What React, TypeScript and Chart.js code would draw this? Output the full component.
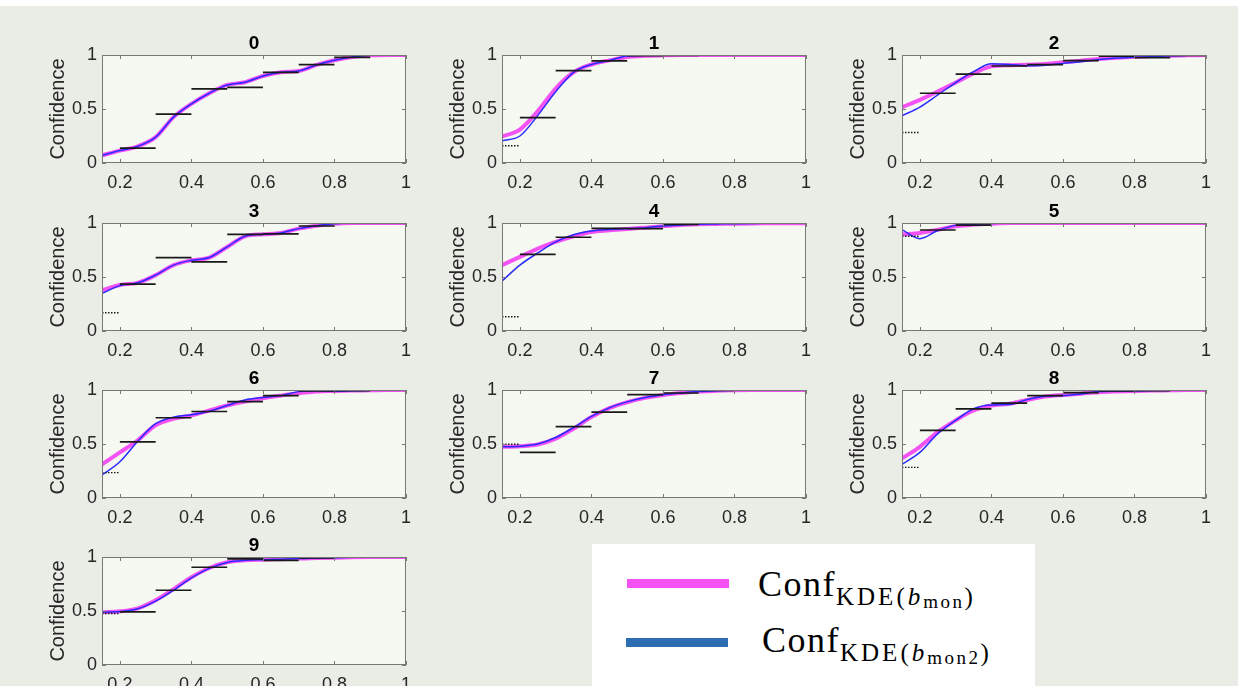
import React, { useEffect, useRef } from "react";
import { Chart, registerables } from "chart.js";

Chart.register(...registerables);

// ---------- data ----------
const xGrid = [0.15, 0.2, 0.25, 0.3, 0.35, 0.4, 0.45, 0.5, 0.55, 0.6, 0.65, 0.7, 0.75, 0.8, 0.85, 0.9, 0.95, 1.0];

const panelTitles = ["0", "1", "2", "3", "4", "5", "6", "7", "8", "9"];

// Conf_KDE(b_mon) (magenta, thick)
const monCurves: number[][] = [
  [0.07, 0.115, 0.155, 0.24, 0.425, 0.548, 0.646, 0.723, 0.748, 0.806, 0.84, 0.852, 0.908, 0.951, 0.982, 0.997, 1.0, 1.0],
  [0.246, 0.31, 0.48, 0.69, 0.84, 0.912, 0.95, 0.982, 0.993, 0.997, 0.999, 1.0, 1.0, 1.0, 1.0, 1.0, 1.0, 1.0],
  [0.517, 0.585, 0.662, 0.745, 0.83, 0.895, 0.906, 0.91, 0.917, 0.932, 0.948, 0.963, 0.975, 0.983, 0.99, 0.994, 0.997, 1.0],
  [0.378, 0.426, 0.446, 0.517, 0.61, 0.655, 0.68, 0.778, 0.877, 0.895, 0.908, 0.948, 0.975, 0.994, 1.0, 1.0, 1.0, 1.0],
  [0.61, 0.686, 0.763, 0.825, 0.877, 0.917, 0.932, 0.945, 0.957, 0.969, 0.982, 0.988, 0.991, 0.994, 0.996, 0.997, 0.998, 0.998],
  [0.895, 0.908, 0.938, 0.969, 0.985, 0.994, 1.0, 1.0, 1.0, 1.0, 1.0, 1.0, 1.0, 1.0, 1.0, 1.0, 1.0, 1.0],
  [0.312, 0.422, 0.535, 0.673, 0.734, 0.765, 0.81, 0.856, 0.893, 0.924, 0.948, 0.969, 0.985, 0.991, 0.995, 0.997, 0.999, 1.0],
  [0.474, 0.48, 0.495, 0.55, 0.642, 0.749, 0.832, 0.887, 0.927, 0.954, 0.972, 0.985, 0.994, 0.998, 1.0, 1.0, 1.0, 1.0],
  [0.367, 0.474, 0.612, 0.719, 0.81, 0.856, 0.872, 0.908, 0.939, 0.954, 0.966, 0.979, 0.986, 0.991, 0.995, 0.997, 0.999, 1.0],
  [0.489, 0.497, 0.525, 0.6, 0.702, 0.812, 0.898, 0.951, 0.969, 0.975, 0.98, 0.985, 0.99, 0.994, 0.997, 0.999, 1.0, 1.0],
];

// Conf_KDE(b_mon2) (blue, thin)
const mon2Curves: number[][] = [
  [0.07, 0.115, 0.155, 0.24, 0.425, 0.548, 0.646, 0.723, 0.748, 0.806, 0.84, 0.852, 0.908, 0.951, 0.982, 0.997, 1.0, 1.0],
  [0.206, 0.25, 0.44, 0.66, 0.84, 0.912, 0.95, 0.99, 0.997, 0.999, 1.0, 1.0, 1.0, 1.0, 1.0, 1.0, 1.0, 1.0],
  [0.437, 0.517, 0.63, 0.745, 0.846, 0.918, 0.912, 0.9, 0.906, 0.922, 0.938, 0.958, 0.972, 0.979, 0.985, 0.993, 0.997, 1.0],
  [0.348, 0.42, 0.446, 0.517, 0.61, 0.655, 0.68, 0.778, 0.877, 0.895, 0.908, 0.948, 0.975, 0.994, 1.0, 1.0, 1.0, 1.0],
  [0.462, 0.61, 0.723, 0.825, 0.892, 0.926, 0.94, 0.948, 0.957, 0.972, 0.982, 0.988, 0.991, 0.994, 0.996, 0.997, 0.998, 0.998],
  [0.938, 0.855, 0.93, 0.978, 0.988, 0.996, 1.0, 1.0, 1.0, 1.0, 1.0, 1.0, 1.0, 1.0, 1.0, 1.0, 1.0, 1.0],
  [0.214, 0.336, 0.526, 0.688, 0.749, 0.771, 0.804, 0.856, 0.908, 0.93, 0.948, 0.985, 0.994, 0.988, 0.992, 0.997, 0.999, 1.0],
  [0.474, 0.48, 0.5, 0.56, 0.652, 0.755, 0.835, 0.89, 0.93, 0.956, 0.973, 0.986, 0.994, 0.998, 1.0, 1.0, 1.0, 1.0],
  [0.312, 0.422, 0.596, 0.719, 0.826, 0.862, 0.865, 0.911, 0.942, 0.948, 0.963, 0.985, 0.988, 0.991, 0.995, 0.997, 0.999, 1.0],
  [0.489, 0.495, 0.52, 0.591, 0.692, 0.806, 0.895, 0.95, 0.969, 0.975, 0.98, 0.985, 0.99, 0.994, 0.997, 0.999, 1.0, 1.0],
];

// bin edges and per-bin values (black horizontal segments)
const binEdges = [0.2, 0.3, 0.4, 0.5, 0.6, 0.7, 0.8, 0.9, 1.0];
const binValues: (number | null)[][] = [
  [0.138, 0.452, 0.686, 0.7, 0.84, 0.91, 0.978, 1.0],
  [0.42, 0.855, 0.945, 0.994, 0.997, null, null, null],
  [0.646, 0.822, 0.898, 0.91, 0.948, 0.99, 0.975, 0.997],
  [0.434, 0.68, 0.64, 0.895, 0.9, 0.972, 1.0, 1.0],
  [0.71, 0.868, 0.95, 0.948, 0.988, null, null, null],
  [0.935, 0.98, 1.0, 1.0, 1.0, 1.0, 1.0, 1.0],
  [0.52, 0.743, 0.801, 0.893, 0.948, 0.991, 0.995, null],
  [0.422, 0.661, 0.795, 0.957, 0.972, 0.997, null, null],
  [0.627, 0.826, 0.878, 0.948, 0.976, 0.991, 0.995, null],
  [0.492, 0.692, 0.905, 0.982, 0.969, 0.991, 1.0, 1.0],
];

// dotted segment over [0.15, 0.2]
const dottedRange = [0.15, 0.2];
const dottedValues = [0.0, 0.16, 0.283, 0.169, 0.132, 0.877, 0.235, 0.498, 0.284, 0.477];

const xTickValues = [0.2, 0.4, 0.6, 0.8, 1];
const yTickValues = [0, 0.5, 1];

// ---------- styles ----------
const PAGE_BG = "#e9ede5";
const PLOT_BG = "#f5f9f1";
const MON_COLOR = "#f452f4";
const MON2_COLOR = "#2a2aff";
const LEGEND_MON2 = "#2d6db1";
const AXIS_COLOR = "#777777";
const TEXT_COLOR = "#262626";
const SANS = '"Liberation Sans", Arial, Helvetica, sans-serif';
const SERIF = '"Liberation Serif", "Times New Roman", serif';

const colLefts = [102, 502, 902];
const rowTops = [55, 223, 390, 557];
const PLOT_W = 304;
const PLOT_H = 108;
const PAD_L = 70;
const PAD_T = 30;
const PAD_R = 14;
const PAD_B = 34;

const framePlugin = {
  id: "frame",
  beforeDraw(chart: any) {
    const { ctx, chartArea: a } = chart;
    ctx.save();
    ctx.fillStyle = PLOT_BG;
    ctx.fillRect(a.left, a.top, a.right - a.left, a.bottom - a.top);
    ctx.restore();
  },
  afterDraw(chart: any, _args: any, opts: any) {
    const { ctx, chartArea: a, scales } = chart;
    ctx.save();
    ctx.strokeStyle = AXIS_COLOR;
    ctx.lineWidth = 1;
    ctx.strokeRect(a.left + 0.5, a.top + 0.5, a.right - a.left - 1, a.bottom - a.top - 1);
    ctx.beginPath();
    for (const v of xTickValues) {
      const px = Math.round(scales.x.getPixelForValue(v)) + 0.5;
      ctx.moveTo(px, a.bottom);
      ctx.lineTo(px, a.bottom - 4);
      ctx.moveTo(px, a.top);
      ctx.lineTo(px, a.top + 4);
    }
    for (const v of yTickValues) {
      const py = Math.round(scales.y.getPixelForValue(v)) + 0.5;
      ctx.moveTo(a.left, py);
      ctx.lineTo(a.left + 4, py);
      ctx.moveTo(a.right, py);
      ctx.lineTo(a.right - 4, py);
    }
    ctx.stroke();
    ctx.fillStyle = "#000";
    ctx.font = `bold 19px ${SANS}`;
    ctx.textAlign = "center";
    ctx.textBaseline = "alphabetic";
    ctx.fillText(opts.title, (a.left + a.right) / 2, a.top - 6);
    ctx.restore();
  },
};

function Panel({ index }: { index: number }) {
  const ref = useRef<HTMLCanvasElement>(null);
  useEffect(() => {
    const canvas = ref.current;
    if (!canvas) return;
    const binData: any[] = [];
    binValues[index].forEach((v, i) => {
      if (v === null) return;
      binData.push({ x: binEdges[i], y: v }, { x: binEdges[i + 1], y: v }, { x: binEdges[i + 1] + 0.001, y: null });
    });
    const d = dottedValues[index];
    const tickFont = { family: SANS, size: 18 };
    const chart = new Chart(canvas, {
      type: "line",
      data: {
        datasets: [
          {
            label: "bins",
            data: binData,
            borderColor: "#1a1a1a",
            borderWidth: 1.7,
            pointRadius: 0,
            spanGaps: false,
            tension: 0,
          },
          {
            label: "dotted",
            data: dottedRange.map((x) => ({ x, y: d })),
            borderColor: "#1a1a1a",
            borderWidth: 1.4,
            borderDash: [1.5, 1.5],
            pointRadius: 0,
            tension: 0,
          },
          {
            label: "mon2",
            data: xGrid.map((x, i) => ({ x, y: mon2Curves[index][i] })),
            borderColor: MON2_COLOR,
            borderWidth: 1.5,
            pointRadius: 0,
            cubicInterpolationMode: "monotone",
          },
          {
            label: "mon",
            data: xGrid.map((x, i) => ({ x, y: monCurves[index][i] })),
            borderColor: MON_COLOR,
            borderWidth: 4,
            pointRadius: 0,
            cubicInterpolationMode: "monotone",
          },
        ],
      } as any,
      options: {
        animation: false,
        responsive: false,
        events: [],
        layout: { padding: { top: PAD_T, right: PAD_R, left: 0, bottom: 0 } },
        plugins: {
          legend: { display: false },
          tooltip: { enabled: false },
          title: { display: false },
          frame: { title: panelTitles[index] },
        } as any,
        scales: {
          x: {
            type: "linear",
            min: 0.15,
            max: 1,
            afterBuildTicks: (s: any) => {
              s.ticks = xTickValues.map((v) => ({ value: v }));
            },
            afterFit: (s: any) => {
              s.height = PAD_B;
            },
            grid: { display: false, drawTicks: false },
            border: { display: false },
            ticks: {
              font: tickFont,
              color: TEXT_COLOR,
              padding: 9,
              maxRotation: 0,
              autoSkip: false,
              callback: (v: any) => String(v),
            },
          },
          y: {
            type: "linear",
            min: 0,
            max: 1,
            afterBuildTicks: (s: any) => {
              s.ticks = yTickValues.map((v) => ({ value: v }));
            },
            afterFit: (s: any) => {
              s.width = PAD_L;
            },
            grid: { display: false, drawTicks: false },
            border: { display: false },
            ticks: {
              font: tickFont,
              color: TEXT_COLOR,
              padding: 5,
              callback: (v: any) => String(v),
            },
            title: {
              display: true,
              text: "Confidence",
              font: { family: SANS, size: 20 },
              color: TEXT_COLOR,
              padding: { top: 14, bottom: 0 },
            },
          },
        } as any,
      },
      plugins: [framePlugin as any],
    });
    return () => chart.destroy();
  }, [index]);

  const col = index % 3;
  const row = Math.floor(index / 3);
  const w = PAD_L + PLOT_W + PAD_R;
  const h = PAD_T + PLOT_H + PAD_B;
  return (
    <canvas
      ref={ref}
      width={w}
      height={h}
      style={{
        position: "absolute",
        left: colLefts[col] - PAD_L,
        top: rowTops[row] - PAD_T,
        width: w,
        height: h,
      }}
    />
  );
}

function LegendEntry({ top, left, sub }: { top: number; left: number; sub: string }) {
  return (
    <div
      style={{
        position: "absolute",
        left,
        top,
        fontFamily: SERIF,
        fontSize: 36,
        lineHeight: "36px",
        whiteSpace: "nowrap",
        color: "#000",
        letterSpacing: 1.5,
      }}
    >
      Conf
      <span style={{ fontSize: 25, verticalAlign: -9, letterSpacing: 3 }}>
        KDE(<i>b</i>
        <span style={{ fontSize: 19, verticalAlign: -3, letterSpacing: 2.5 }}>{sub}</span>)
      </span>
    </div>
  );
}

export default function App() {
  return (
    <div
      style={{
        position: "fixed",
        left: 0,
        top: 0,
        width: 1245,
        height: 686,
        background: PAGE_BG,
        overflow: "hidden",
      }}
    >
      <div style={{ position: "absolute", left: 0, top: 0, width: 1245, height: 6, background: "#fff" }} />
      <div style={{ position: "absolute", left: 1238, top: 0, width: 7, height: 686, background: "#fff" }} />
      {panelTitles.map((_, i) => (
        <Panel key={i} index={i} />
      ))}
      <div
        style={{
          position: "absolute",
          left: 592,
          top: 544,
          width: 443,
          height: 142,
          background: "#fff",
        }}
      >
        <div style={{ position: "absolute", left: 35, top: 35, width: 102, height: 9, background: MON_COLOR }} />
        <div style={{ position: "absolute", left: 34, top: 94, width: 102, height: 9, background: LEGEND_MON2 }} />
        <LegendEntry left={166} top={22} sub="mon" />
        <LegendEntry left={170} top={78} sub="mon2" />
      </div>
    </div>
  );
}
